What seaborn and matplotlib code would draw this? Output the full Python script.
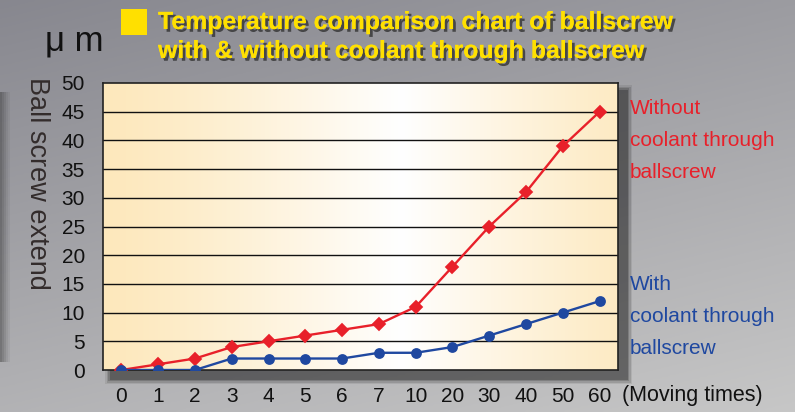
import numpy as np
import pandas as pd
import matplotlib
matplotlib.use("Agg")
import matplotlib.pyplot as plt
import matplotlib.patheffects as pe
from matplotlib.patches import Rectangle
import seaborn as sns

# Data
moves = ["0", "1", "2", "3", "4", "5", "6", "7", "10", "20", "30", "40", "50", "60"]
without_coolant = [0, 1, 2, 4, 5, 6, 7, 8, 11, 18, 25, 31, 39, 45]
with_coolant = [0, 0, 0, 2, 2, 2, 2, 3, 3, 4, 6, 8, 10, 12]
yticks = [0, 5, 10, 15, 20, 25, 30, 35, 40, 45, 50]

red = "#e8202a"
blue = "#1f48a0"

df = pd.DataFrame({
    "moves": moves + moves,
    "extend": without_coolant + with_coolant,
    "series": ["without"] * len(moves) + ["with"] * len(moves),
})

sns.set_style("white")
plt.rcParams["font.family"] = ["Liberation Sans", "DejaVu Sans"]

W, H = 795, 412
fig = plt.figure(figsize=(W / 100, H / 100), dpi=100)

# figure background: grey gradient
bg = fig.add_axes([0, 0, 1, 1], zorder=-10)
yy, xx = np.mgrid[0:1:200j, 0:1:200j]
tl, tr = np.array([0.53, 0.53, 0.56]), np.array([0.61, 0.61, 0.63])
bl, br = np.array([0.70, 0.70, 0.71]), np.array([0.78, 0.78, 0.78])
img = ((1 - xx)[..., None] * (1 - yy)[..., None] * tl + xx[..., None] * (1 - yy)[..., None] * tr
       + (1 - xx)[..., None] * yy[..., None] * bl + xx[..., None] * yy[..., None] * br)
bg.imshow(img, extent=[0, 1, 0, 1], aspect="auto", origin="upper")
bg.set_xlim(0, 1)
bg.set_ylim(0, 1)
bg.axis("off")

# dark strip at far left
for i, a in enumerate([0.45, 0.35, 0.25, 0.15, 0.07]):
    bg.add_patch(Rectangle((i * 2 / W, 1 - 362 / H), 2 / W, 270 / H, color="#333333", alpha=a, lw=0))

x0, x1, y0, y1 = 103, 618, 83, 370
pos = [x0 / W, 1 - y1 / H, (x1 - x0) / W, (y1 - y0) / H]

# shadow of the plot panel
for k, a in zip([12, 9, 6, 3], [0.08, 0.12, 0.16, 0.22]):
    bg.add_patch(Rectangle(((x0 + 8 - k / 2) / W, 1 - (y1 + 8 + k / 2) / H),
                           (x1 - x0 + k) / W, (y1 - y0 + k) / H,
                           color="black", alpha=a, lw=0))

ax = fig.add_axes(pos)

# panel gradient: cream at the edges, white in the middle
gx = np.linspace(0, 1, 300)
edge_l = np.array([253, 232, 188]) / 255
edge_r = np.array([253, 229, 180]) / 255
white = np.array([1.0, 1.0, 1.0])
w = np.clip(1 - np.abs(gx - 0.58) / 0.58, 0, 1) ** 1.2
left_part = gx < 0.58
base = np.where(left_part[:, None], edge_l, edge_r)
grad = base * (1 - w[:, None]) + white * w[:, None]
ax.imshow(grad[None, :, :], extent=[-0.5, 13.5, 0, 50], aspect="auto", zorder=0)

sns.pointplot(data=df, x="moves", y="extend", hue="series", order=moves,
              hue_order=["without", "with"], palette=[red, blue],
              markers=["D", "o"], linestyles=["-", "-"], markersize=6.5,
              linewidth=1.7, ax=ax, legend=False, zorder=5)

ax.set_xlim(-0.5, 13.5)
ax.set_ylim(0, 50)
ax.set_yticks(yticks)
ax.set_yticklabels([str(v) for v in yticks])
for v in yticks[1:-1]:
    ax.axhline(v, color="#111111", lw=1.0, zorder=1)
ax.grid(False)

ax.set_xticks(range(len(moves)))
ax.set_xticklabels(moves)
ax.set_xticks(np.arange(0.5, len(moves) - 0.5, 1), minor=True)
ax.tick_params(axis="x", which="major", length=0, pad=12, labelsize=15, colors="#111111")
ax.tick_params(axis="x", which="minor", direction="in", length=6, width=1, color="#444444")
ax.tick_params(axis="y", length=0, pad=13, labelsize=15, colors="#111111")
ax.set_xlabel("")
ax.set_ylabel("")
for s in ax.spines.values():
    s.set_color("#222222")
    s.set_linewidth(1.2)

fig.text(622 / W, 1 - 395 / H, "(Moving times)", fontsize=15.5, color="#111111", va="center", ha="left")

fig.text(37 / W, 1 - 183 / H, "Ball screw extend", rotation=-90, fontsize=19.5,
         color="#332c2c", ha="center", va="center")
fig.text(45 / W, 1 - 41 / H, "μ m", fontsize=25, color="#111111", ha="left", va="center")

# title
bg.add_patch(Rectangle((121 / W, 1 - 35 / H), 26 / W, 26 / H, color="#ffe000", lw=0))
shadow = [pe.withSimplePatchShadow(offset=(2, -2), shadow_rgbFace="#333333", alpha=0.8), pe.Normal()]
fig.text(158 / W, 1 - 22 / H, "Temperature comparison chart of ballscrew", fontsize=17.9,
         fontweight="bold", color="#ffe000", ha="left", va="center", path_effects=shadow)
fig.text(158 / W, 1 - 51 / H, "with & without coolant through ballscrew", fontsize=17.9,
         fontweight="bold", color="#ffe000", ha="left", va="center", path_effects=shadow)

# series labels
for i, line in enumerate(["Without", "coolant through", "ballscrew"]):
    fig.text(630 / W, 1 - (108 + 32 * i) / H, line, fontsize=15, color=red, ha="left", va="center")
for i, line in enumerate(["With", "coolant through", "ballscrew"]):
    fig.text(630 / W, 1 - (285 + 32 * i) / H, line, fontsize=15, color=blue, ha="left", va="center")

fig.savefig("out.png", dpi=100)
